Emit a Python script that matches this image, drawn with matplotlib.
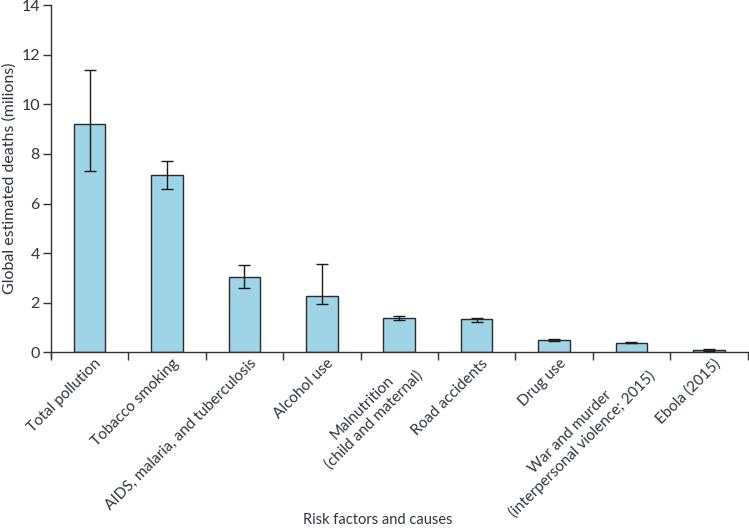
import numpy as np
import matplotlib
matplotlib.use('Agg')
import matplotlib.pyplot as plt

plt.rcParams['font.family'] = ['Lato', 'DejaVu Sans']

# Data (millions of deaths)
causes = ['Total pollution', 'Tobacco smoking', 'AIDS, malaria, and tuberculosis',
          'Alcohol use', 'Malnutrition\n(child and maternal)', 'Road accidents',
          'Drug use', 'War and murder\n(interpersonal violence; 2015)', 'Ebola (2015)']
deaths = [9.19, 7.14, 3.02, 2.27, 1.39, 1.33, 0.48, 0.39, 0.08]
err_low = [7.33, 6.58, 2.58, 1.95, 1.28, 1.23, 0.44, 0.37, 0.03]
err_high = [11.37, 7.73, 3.52, 3.56, 1.47, 1.37, 0.53, 0.42, 0.14]

deaths = np.array(deaths)
yerr = [deaths - np.array(err_low), np.array(err_high) - deaths]

text_col = '#2e3440'
fig = plt.figure(figsize=(7.49, 5.28), dpi=100)
ax = fig.add_axes([0.068, 0.333, 0.93, 0.657])

x = np.arange(len(causes))
ax.bar(x, deaths, width=0.41, color='#9ed4e5', edgecolor='#2b2b2b', linewidth=1.0,
       yerr=yerr, error_kw=dict(ecolor='#1a1a1a', elinewidth=1.0, capsize=4, capthick=1.0))

ax.set_xlim(-0.5, len(causes) - 0.5)
ax.set_ylim(0, 14)
ax.set_yticks(np.arange(0, 15, 2))

# tick marks at category boundaries, labels at centres
ax.set_xticks(np.arange(len(causes) + 1) - 0.5)
ax.set_xticklabels([])
ax.set_xticks(x + 0.06, minor=True)
ax.set_xticklabels(causes, minor=True, rotation=45, ha='right', va='top',
                   rotation_mode='anchor', multialignment='center',
                   fontsize=11, color=text_col)
ax.tick_params(axis='x', which='minor', length=0, pad=3)
ax.tick_params(axis='x', which='major', length=6, width=1, color='#333333')
ax.tick_params(axis='y', length=6, width=1, color='#333333', labelsize=11.5,
               labelcolor=text_col, pad=2)

for side in ['top', 'right']:
    ax.spines[side].set_visible(False)
for side in ['left', 'bottom']:
    ax.spines[side].set_color('#333333')
    ax.spines[side].set_linewidth(1.0)
ax.spines['left'].set_bounds(-0.2, 14)

ax.set_ylabel('Global estimated deaths (milions)', fontsize=11.5, color=text_col, labelpad=3)
fig.text(0.505, 0.002, 'Risk factors and causes', ha='center', va='bottom',
         fontsize=10.5, color=text_col)

fig.savefig('out.png', dpi=100)
